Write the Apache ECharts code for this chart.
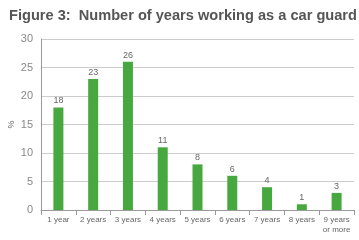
<!DOCTYPE html>
<html><head><meta charset="utf-8">
<script src="https://cdn.jsdelivr.net/npm/echarts@6/dist/echarts.min.js"></script>
<style>html,body{margin:0;padding:0;background:#fff}#c{width:359px;height:240px}</style>
</head><body><div id="c"></div>
<script>
var titleText = 'Figure 3:  Number of years working as a car guard';
var categories = ['1 year','2 years','3 years','4 years','5 years','6 years','7 years','8 years','9 years\nor more'];
var values = [18, 23, 26, 11, 8, 6, 4, 1, 3];
var yTicks = [0, 5, 10, 15, 20, 25, 30];
var chart = echarts.init(document.getElementById('c'));
chart.setOption({
  animation: false,
  title: {text: titleText, left: 4, top: 3, textStyle: {fontFamily: 'Liberation Sans', fontWeight: 'bold', fontSize: 14.6, color: '#555'}},
  grid: {left: 41, right: 5, top: 39, bottom: 30, outerBoundsMode: 'none', containLabel: false},
  xAxis: {type: 'category', data: categories, boundaryGap: true,
    axisLine: {lineStyle: {color: '#999'}},
    axisTick: {show: true, alignWithLabel: false, length: 5, lineStyle: {color: '#999'}},
    axisLabel: {fontFamily: 'Liberation Sans', fontSize: 8, color: '#666', margin: 5, interval: 0, lineHeight: 10}},
  yAxis: {type: 'value', min: 0, max: 30, interval: 5, name: '%', nameLocation: 'middle', nameGap: 25, nameRotate: 90, nameMoveOverlap: false,
    nameTextStyle: {fontFamily: 'Liberation Sans', fontSize: 9, color: '#666'},
    axisLine: {show: true, lineStyle: {color: '#999'}},
    axisTick: {show: false},
    axisLabel: {fontFamily: 'Liberation Sans', fontSize: 11, color: '#888', margin: 8},
    splitLine: {lineStyle: {color: '#ccc'}}},
  series: [{type: 'bar', data: values, barWidth: 10, itemStyle: {color: '#48a840'},
    label: {show: true, position: 'top', distance: 2, fontFamily: 'Liberation Sans', fontSize: 9, color: '#666'}}]
});
</script></body></html>
